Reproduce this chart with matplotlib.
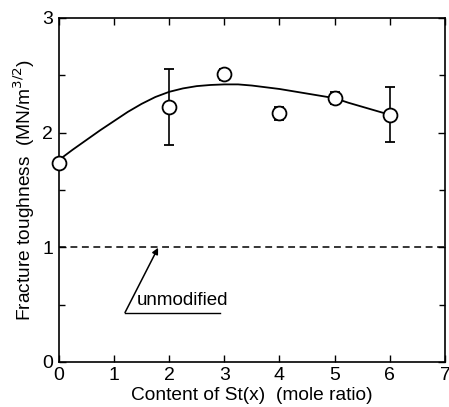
import matplotlib
matplotlib.use("Agg")
import matplotlib.pyplot as plt
from matplotlib.ticker import MultipleLocator

# measured points
content = [0, 2, 3, 4, 5, 6]
toughness = [1.735, 2.22, 2.51, 2.17, 2.30, 2.15]
err_low = [0.0, 0.33, 0.05, 0.06, 0.05, 0.23]
err_high = [0.0, 0.33, 0.04, 0.05, 0.05, 0.25]

# fitted curve
curve_x = [0, 0.25, 0.5, 0.75, 1, 1.25, 1.5, 1.75, 2, 2.25, 2.5, 2.75, 3, 3.25, 3.5,
           3.75, 4, 4.25, 4.5, 4.75, 5, 5.25, 5.5, 5.75, 6]
curve_y = [1.76, 1.85, 1.935, 2.02, 2.10, 2.18, 2.25, 2.31, 2.355, 2.385, 2.405, 2.415, 2.42,
           2.42, 2.41, 2.395, 2.38, 2.36, 2.34, 2.32, 2.30, 2.26, 2.225, 2.19, 2.155]

unmodified = 1.0

plt.rcParams['font.family'] = ['Liberation Sans', 'DejaVu Sans']

fig = plt.figure(figsize=(4.49, 4.07), dpi=100)
ax = fig.add_axes([0.131, 0.111, 0.860, 0.845])

ax.plot(curve_x, curve_y, "k-", linewidth=1.3)
ax.errorbar(content, toughness, yerr=[err_low, err_high], fmt="o", color="k",
            markerfacecolor="white", markeredgecolor="k", markersize=10,
            markeredgewidth=1.3, elinewidth=1.2, capsize=3.5, capthick=1.2,
            zorder=3, clip_on=False)

ax.axhline(unmodified, color="k", linestyle=(0, (4.5, 3)), linewidth=1.1)

ax.annotate("", xy=(1.8, 0.995), xytext=(1.2, 0.43),
            arrowprops=dict(arrowstyle="-|>", color="k", lw=1.1, mutation_scale=9,
                            shrinkA=0, shrinkB=0))
ax.plot([1.2, 2.92], [0.43, 0.43], "k-", linewidth=1.0)
ax.text(1.42, 0.46, "unmodified", fontsize=13.5, ha="left", va="bottom")

ax.set_xlim(0, 7)
ax.set_ylim(0, 3)
ax.xaxis.set_major_locator(MultipleLocator(1))
ax.yaxis.set_major_locator(MultipleLocator(1))
ax.yaxis.set_minor_locator(MultipleLocator(0.5))
ax.tick_params(which="both", direction="in", top=True, right=True, labelsize=14)
ax.tick_params(which="major", length=5, width=1, pad=4)
ax.tick_params(which="minor", length=4, width=1)
for s in ax.spines.values():
    s.set_linewidth(1.2)

ax.set_xlabel("Content of St(x)  (mole ratio)", fontsize=13.8, labelpad=2)
ax.set_ylabel("Fracture toughness  (MN/m$^{3/2}$)", fontsize=13.8, labelpad=4)

fig.savefig("out.png", dpi=100)
